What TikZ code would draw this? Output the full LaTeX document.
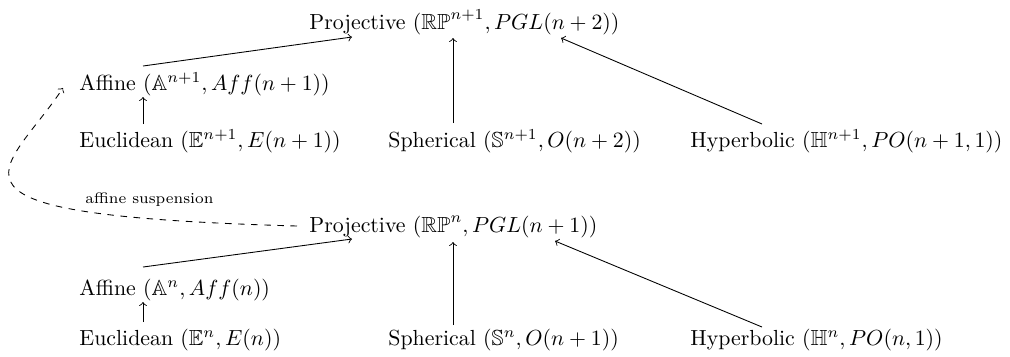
\documentclass[tikz,border=0pt]{standalone}
\usepackage{amsmath, amssymb}
\usepackage{tikz}
\usetikzlibrary{calc}

\begin{document}
\begin{tikzpicture}[
    x=0.458pt, y=-0.458pt,
    geo/.style={anchor=base west, inner sep=0pt},
    arr/.style={->},
    susp/.style={->, dashed},
  ]
    \useasboundingbox (0,0) rectangle (1010,356);

    % Dimension n+1
    \node[geo] (proj1) at (309, 29)  {Projective $(\mathbb{RP}^{n+1}, PGL(n+2))$};
    \node[geo] (aff1)  at (79, 90)   {Affine $(\mathbb{A}^{n+1}, Aff(n+1))$};
    \node[geo] (euc1)  at (79, 147)  {Euclidean $(\mathbb{E}^{n+1}, E(n+1))$};
    \node[geo] (sph1)  at (388, 147) {Spherical $(\mathbb{S}^{n+1}, O(n+2))$};
    \node[geo] (hyp1)  at (690, 147) {Hyperbolic $(\mathbb{H}^{n+1}, PO(n+1,1))$};

    % Dimension n
    \node[geo] (proj0) at (309, 232) {Projective $(\mathbb{RP}^{n}, PGL(n+1))$};
    \node[geo] (aff0)  at (79, 295)  {Affine $(\mathbb{A}^{n}, Aff(n))$};
    \node[geo] (euc0)  at (79, 345)  {Euclidean $(\mathbb{E}^{n}, E(n))$};
    \node[geo] (sph0)  at (388, 345) {Spherical $(\mathbb{S}^{n}, O(n+1))$};
    \node[geo] (hyp0)  at (690, 345) {Hyperbolic $(\mathbb{H}^{n}, PO(n,1))$};

    \draw[arr] ($(euc1.base west)+(64,-23)$) -- ($(aff1.base west)+(64,7)$);
    \draw[arr] ($(aff1.base west)+(64,-24)$) -- ($(proj1.base west)+(43,8)$);
    \draw[arr] ($(sph1.base west)+(65,-24)$) -- ($(proj1.base west)+(144,9)$);
    \draw[arr] ($(hyp1.base west)+(72,-23)$) -- ($(proj1.base west)+(252,9)$);

    \draw[arr] ($(euc0.base west)+(64,-23)$) -- ($(aff0.base west)+(64,7)$);
    \draw[arr] ($(aff0.base west)+(64,-28)$) -- ($(proj0.base west)+(43,7)$);
    \draw[arr] ($(sph0.base west)+(65,-20)$) -- ($(proj0.base west)+(144,10)$);
    \draw[arr] ($(hyp0.base west)+(72,-18)$) -- ($(proj0.base west)+(246,9)$);

    % affine suspension
    \draw[susp] ($(proj0.base west)+(-12,-6)$)
      .. controls +(-387,-11) and +(-58,87) .. ($(aff1.base west)+(-16,-2)$);
    \node[geo, font=\scriptsize] (lbl) at ($(proj0.base west)+(-224,-29)$)
      {affine suspension};
  \end{tikzpicture}
\end{document}
